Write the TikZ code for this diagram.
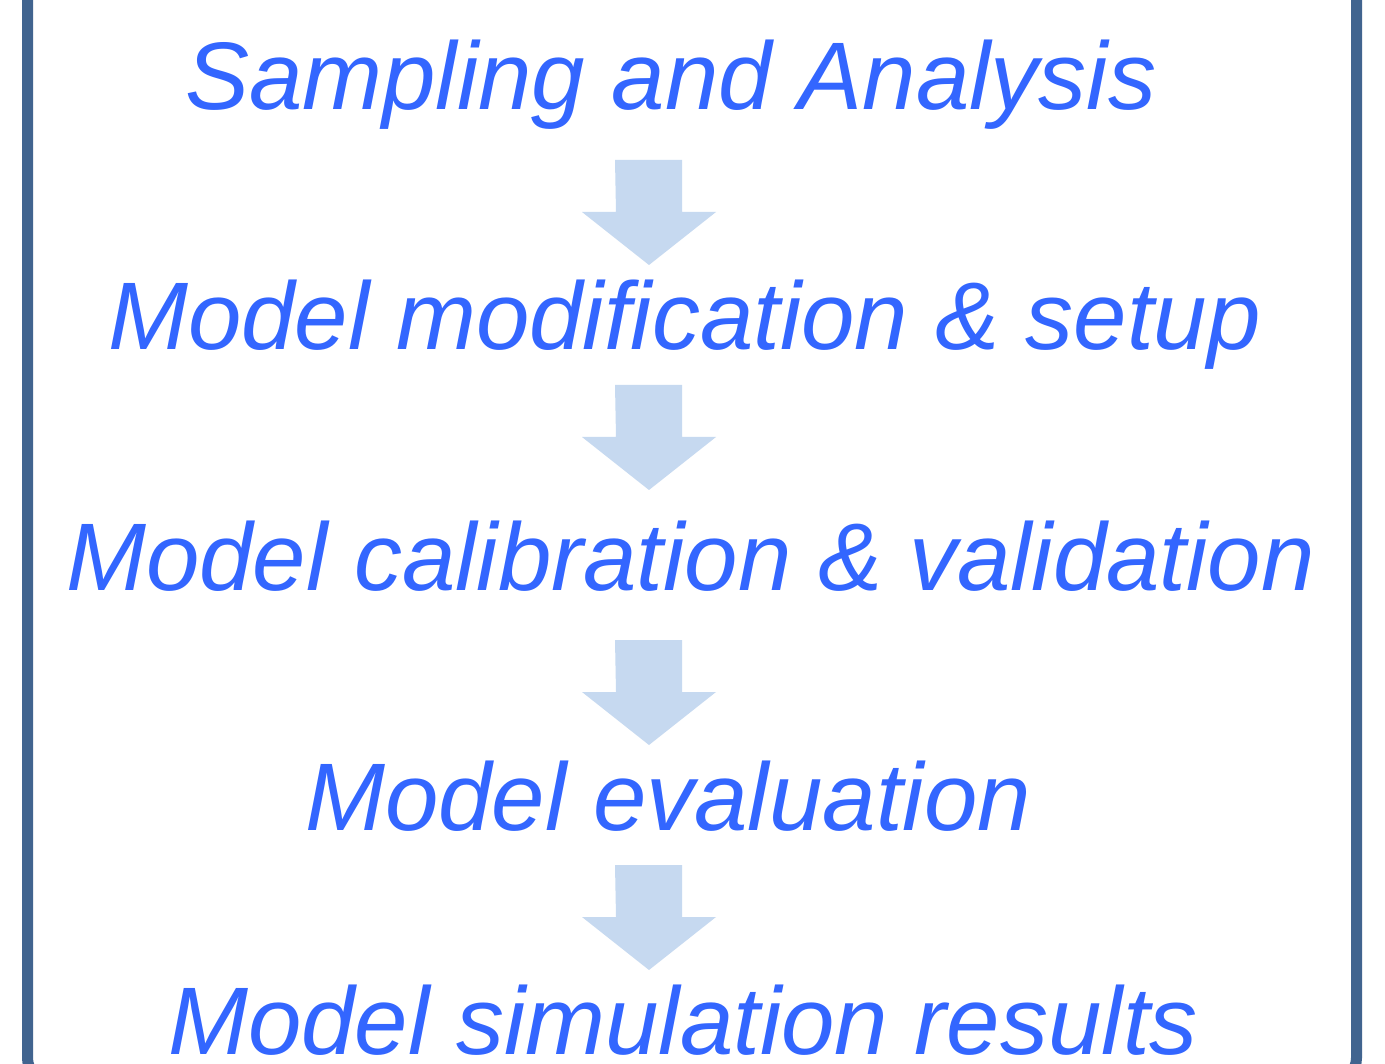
\documentclass[tikz,border=0pt]{standalone}
\usepackage{fontspec}
\setmainfont{Liberation Sans}
\definecolor{framecol}{HTML}{41648F}
\definecolor{textcol}{HTML}{3366FF}
\definecolor{arrowcol}{HTML}{C6D9F0}
\tikzset{
  steptext/.style={anchor=base west, inner sep=0pt, text=textcol,
    font=\fontsize{96}{100}\selectfont\itshape},
  blockarrow/.style={fill=arrowcol, draw=none},
  framebox/.style={draw=framecol, line width=11pt, rounded corners=22pt}
}
\newcommand{\myarrow}[1]{%
  \fill[blockarrow] (#1) ++(-34,0) -- ++(67,0) -- ++(0,52) -- ++(34,0)
    -- ++(-67,53) -- ++(-67,-53) -- ++(34,0) -- cycle;}
\begin{document}
\begin{tikzpicture}[x=1pt,y=-1pt]
\useasboundingbox (0,0) rectangle (1385,1064);
\clip (0,0) rectangle (1385,1064);
\fill[white] (0,0) rectangle (1385,1064);
\draw[framebox] (27.5,-40) rectangle (1356.5,1080);
\node[steptext] (s1) at (185,110) {Sampling and Analysis};
\node[steptext] (s2) at (108,350) {Model modification \& setup};
\node[steptext] (s3) at (66,590) {Model calibration \& validation};
\node[steptext] (s4) at (305,830) {Model evaluation};
\node[steptext] (s5) at (168,1054) {Model simulation results};
\coordinate (a1) at (649,160);
\coordinate (a2) at (649,385);
\coordinate (a3) at (649,640);
\coordinate (a4) at (649,865);
\myarrow{a1}
\myarrow{a2}
\myarrow{a3}
\myarrow{a4}
\end{tikzpicture}
\end{document}
